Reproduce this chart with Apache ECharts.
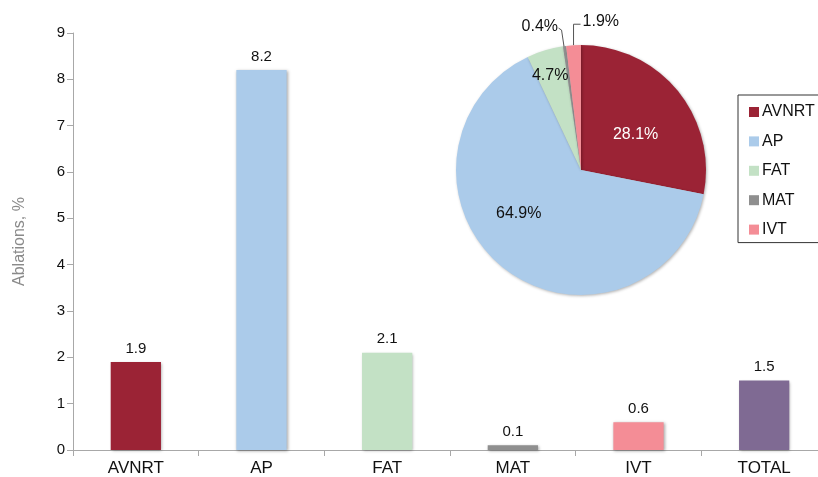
<!DOCTYPE html>
<html><head><meta charset="utf-8">
<script src="https://cdn.jsdelivr.net/npm/echarts@6/dist/echarts.min.js"></script>
<style>html,body{margin:0;padding:0;background:#fff;overflow:hidden;width:818px;height:477px}#c{width:840px;height:477px}</style>
</head><body><div id="c"></div>
<script>
var categories = ['AVNRT', 'AP', 'FAT', 'MAT', 'IVT', 'TOTAL'];
var barValues = [1.9, 8.2, 2.1, 0.1, 0.6, 1.5];
var barColors = ['#9b2335', '#abcbea', '#c3e1c5', '#8f8f8f', '#f48d96', '#7f6a93'];
var pieNames = ['AVNRT', 'AP', 'FAT', 'MAT', 'IVT'];
var pieValues = [28.1, 64.9, 4.7, 0.4, 1.9];
var yTicks = [0, 1, 2, 3, 4, 5, 6, 7, 8, 9];

var FONT = '"Liberation Sans", Arial, sans-serif';
var chart = echarts.init(document.getElementById('c'), null, {renderer: 'canvas'});

var pieLabelPos = ['inside', 'inside', 'inside', 'outside', 'outside'];
var pieLabelColor = ['#ffffff', '#111', '#111', '#111', '#111'];

chart.setOption({
  animation: false,
  textStyle: {fontFamily: FONT},
  grid: {left: 73, top: 33, width: 754, height: 418, containLabel: false},
  xAxis: {
    type: 'category', data: categories,
    axisLine: {lineStyle: {color: '#a8a8a8', width: 1}},
    axisTick: {show: true, length: 6, lineStyle: {color: '#a8a8a8'}},
    axisLabel: {color: '#111', fontSize: 17, margin: 10, fontFamily: FONT}
  },
  yAxis: {
    type: 'value', min: yTicks[0], max: yTicks[yTicks.length - 1], interval: 1,
    name: 'Ablations, %', nameLocation: 'middle', nameGap: 45,
    nameTextStyle: {color: '#8a8a8a', fontSize: 16, fontFamily: FONT},
    axisLine: {show: true, lineStyle: {color: '#a8a8a8'}},
    axisTick: {show: true, length: 6, lineStyle: {color: '#a8a8a8'}},
    axisLabel: {color: '#111', fontSize: 15, margin: 8, fontFamily: FONT},
    splitLine: {show: false}
  },
  legend: {
    orient: 'vertical', left: 738, top: 95,
    data: pieNames,
    icon: 'rect', itemWidth: 10, itemHeight: 10, itemGap: 13.4,
    padding: [9, 40, 5, 11],
    borderColor: '#333', borderWidth: 1,
    textStyle: {color: '#111', fontSize: 16, fontFamily: FONT, padding: [0, 0, 0, -2]}
  },
  series: [
    {
      type: 'bar', barWidth: '40%',
      data: barValues.map(function (v, i) {
        return {value: v, itemStyle: {color: barColors[i]}};
      }),
      itemStyle: {shadowColor: 'rgba(0,0,0,0.35)', shadowBlur: 3, shadowOffsetX: 1, shadowOffsetY: 1},
      label: {show: true, position: 'top', distance: 6, color: '#111', fontSize: 15, fontFamily: FONT}
    },
    {
      type: 'pie', center: [581, 170], radius: 125, startAngle: 90, clockwise: true,
      itemStyle: {shadowColor: 'rgba(0,0,0,0.3)', shadowBlur: 3, shadowOffsetX: 1, shadowOffsetY: 1},
      data: pieNames.map(function (n, i) {
        return {
          name: n, value: pieValues[i],
          itemStyle: {color: barColors[i]},
          label: {position: pieLabelPos[i], color: pieLabelColor[i]},
          labelLine: {show: pieLabelPos[i] === 'outside'}
        };
      }),
      label: {show: true, formatter: function (p) { return p.value.toFixed(1) + '%'; }, fontSize: 16, fontFamily: FONT},
      labelLine: {lineStyle: {color: '#555', width: 1}, length: 12, length2: 8},
      labelLayout: function (p) {
        if (p.dataIndex === 0) return {dx: 4, dy: 6};
        if (p.dataIndex === 1) return {dx: -22, dy: -8};
        if (p.dataIndex === 2) return {dx: -12, dy: -32};
        if (p.labelLinePoints) {
          var p0 = p.labelLinePoints[0];
          if (p.dataIndex === 3) {
            return {
              x: p0[0] - 6.5, y: p0[1] - 19, align: 'right', verticalAlign: 'middle',
              labelLinePoints: [[p0[0] + 4.5, p0[1] + 34], [p0[0] - 3, p0[1] - 16], [p0[0] - 6, p0[1] - 18]]
            };
          }
          if (p.dataIndex === 4) {
            return {
              x: p0[0] + 9, y: p0[1] - 24, align: 'left', verticalAlign: 'middle',
              labelLinePoints: [[p0[0], p0[1]], [p0[0], p0[1] - 21], [p0[0] + 7, p0[1] - 21]]
            };
          }
        }
        return {};
      }
    }
  ]
});
</script></body></html>
